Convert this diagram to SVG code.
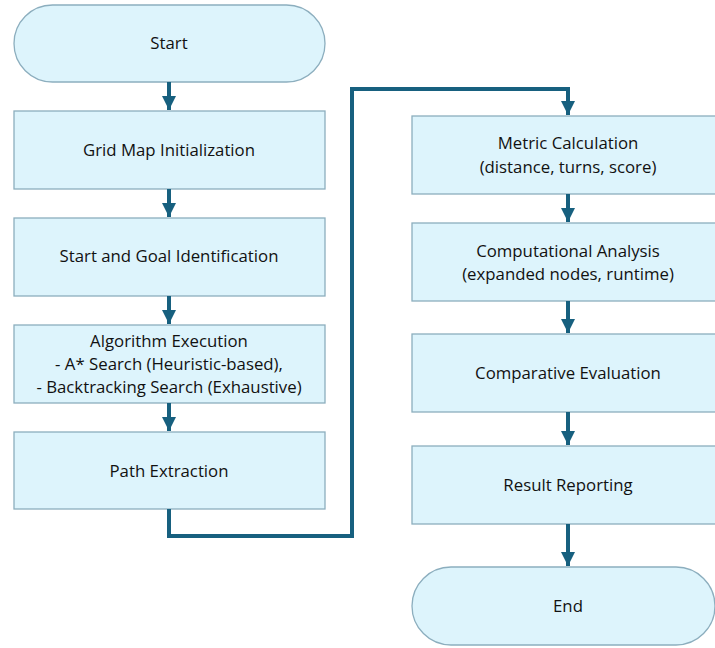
<svg xmlns="http://www.w3.org/2000/svg" width="715" height="648" viewBox="0 0 715 648">
<defs>
<style>
.n{fill:#DDF4FC;stroke:#8CAEBE;stroke-width:1.3}
.t{font-family:"Open Sans","Liberation Sans",sans-serif;font-size:16.8px;fill:#111;text-anchor:middle}
.c{fill:none;stroke:#17607F;stroke-width:4;stroke-linejoin:miter}
</style>
<marker id="ah" viewBox="0 0 10 10" refX="10" refY="5" markerWidth="3.6" markerHeight="3.6" orient="auto" markerUnits="strokeWidth">
<path d="M0,0 L10,5 L0,10 Z" fill="#17607F"/>
</marker>
</defs>
<rect width="715" height="648" fill="#fff"/>
<g id="start"><rect class="n" x="14" y="5" width="311" height="77" rx="38.5"/><text class="t" x="169" y="49">Start</text></g>
<g id="grid"><rect class="n" x="14" y="111" width="311" height="78"/><text class="t" x="169" y="156">Grid Map Initialization</text></g>
<g id="goal"><rect class="n" x="14" y="218" width="311" height="78"/><text class="t" x="169" y="262">Start and Goal Identification</text></g>
<g id="algo"><rect class="n" x="14" y="325" width="311" height="78"/><text class="t" x="169" y="347">Algorithm Execution</text><text class="t" x="169" y="370">- A* Search (Heuristic-based),</text><text class="t" x="169" y="393">- Backtracking Search (Exhaustive)</text></g>
<g id="path"><rect class="n" x="14" y="432" width="311" height="77"/><text class="t" x="169" y="477">Path Extraction</text></g>
<g id="metric"><rect class="n" x="412" y="116" width="312" height="78"/><text class="t" x="568" y="149">Metric Calculation</text><text class="t" x="568" y="173">(distance, turns, score)</text></g>
<g id="comp"><rect class="n" x="412" y="223" width="312" height="78"/><text class="t" x="568" y="257">Computational Analysis</text><text class="t" x="568" y="280">(expanded nodes, runtime)</text></g>
<g id="eval"><rect class="n" x="412" y="334" width="312" height="78"/><text class="t" x="568" y="379">Comparative Evaluation</text></g>
<g id="report"><rect class="n" x="412" y="446" width="312" height="78"/><text class="t" x="568" y="491">Result Reporting</text></g>
<g id="end"><rect class="n" x="412" y="567" width="303" height="78" rx="39"/><text class="t" x="568" y="612">End</text></g>
<g id="connectors">
<path class="c" d="M169,82 V110" marker-end="url(#ah)"/>
<path class="c" d="M169,189 V217" marker-end="url(#ah)"/>
<path class="c" d="M169,296 V324" marker-end="url(#ah)"/>
<path class="c" d="M169,403 V431" marker-end="url(#ah)"/>
<path class="c" d="M169,509 V536 H352 V89 H568 V115" marker-end="url(#ah)"/>
<path class="c" d="M568,194 V222" marker-end="url(#ah)"/>
<path class="c" d="M568,301 V333" marker-end="url(#ah)"/>
<path class="c" d="M568,412 V445" marker-end="url(#ah)"/>
<path class="c" d="M568,524 V566" marker-end="url(#ah)"/>
</g>
</svg>
